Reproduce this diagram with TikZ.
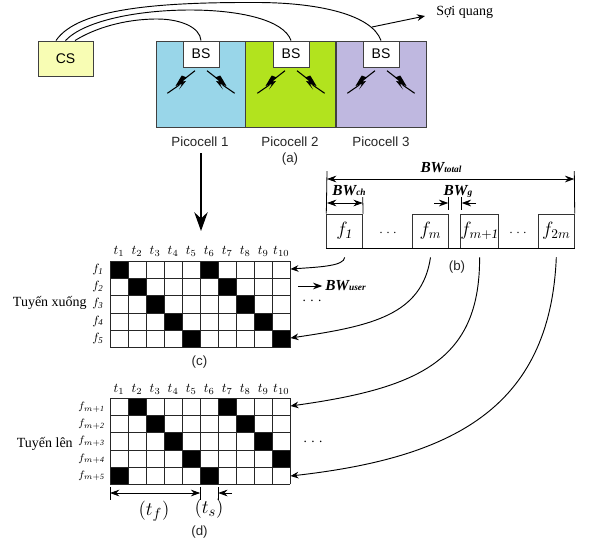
\documentclass[tikz,border=0pt]{standalone}
\usepackage{fontspec}
\setmainfont{Liberation Serif}
\newfontfamily\helv{Liberation Sans}
\usetikzlibrary{arrows.meta,positioning}
\definecolor{csyellow}{HTML}{F8FDB4}
\definecolor{cellblue}{HTML}{99D6E9}
\definecolor{cellgreen}{HTML}{B2E31E}
\definecolor{celllilac}{HTML}{BFB8E0}
\newcommand{\subfont}{\fontsize{7}{8}\selectfont}
\tikzset{
  cellbox/.style={draw=black!75,line width=.7pt,minimum width=90*.75pt,minimum height=86*.75pt,inner sep=0pt},
  bsbox/.style={draw=black!75,fill=white,line width=.7pt,minimum width=36*.75pt,minimum height=26*.75pt,inner sep=0pt,font=\helv\fontsize{10.5}{12}\selectfont},
  chanbox/.style={draw=black!80,line width=.6pt,minimum width=36*.75pt,minimum height=34*.75pt,inner sep=0pt,font=\itshape\fontsize{14}{14}\selectfont},
  sanslabel/.style={inner sep=0pt,font=\helv\fontsize{10}{11}\selectfont,text=black!85},
  seriflabel/.style={inner sep=0pt,font=\fontsize{10.5}{11}\selectfont},
  bwlabel/.style={inner sep=0pt,font=\bfseries\itshape\fontsize{11.5}{12}\selectfont},
  timelabel/.style={inner sep=0pt,font=\itshape\fontsize{10}{10}\selectfont},
  freqlabel/.style={inner sep=0pt,font=\itshape\fontsize{9.5}{10}\selectfont},
  fiber/.style={line width=.7pt},
  tip/.style={-{Stealth[length=6pt,width=5pt]},line width=.7pt},
  dimtip/.style={-{Stealth[length=7pt,width=5pt]},line width=.6pt}
}
\newcommand{\boltmark}{
  \draw[line width=.8pt] (14,-11.3) -- (4,-3.5);
  \draw[line width=.8pt] (-1.7,3) -- (-13.7,11.3);
  \fill (6,-4.5) -- (.7,-6.5) -- (-5.5,4) -- (1,2) -- (-2,7.5) -- (5,-1) -- (1.5,-.5) -- cycle;
}
\begin{document}
\begin{tikzpicture}[x=.75pt,y=-.75pt,>=Stealth]
\useasboundingbox (0,0) rectangle (596,544);
\fill[white] (0,0) rectangle (596,544);
% (a)
\node[draw=black!75,fill=csyellow,line width=.7pt,minimum width=55*.75pt,minimum height=35*.75pt,inner sep=0pt,font=\helv\fontsize{10.5}{12}\selectfont] (cs) at (65.5,58.5) {CS};
\node[cellbox,fill=cellblue] (cell1) at (201,84) {};
\node[cellbox,fill=cellgreen] (cell2) at (290.5,84) {};
\node[cellbox,fill=celllilac] (cell3) at (381,84) {};
\foreach \i/\x in {1/201,2/291,3/381} {
  \node[bsbox] (bs\i) at (\x,54) {BS};
  \begin{scope}[shift={(\x-20,82)}]
    \boltmark
  \end{scope}
  \begin{scope}[shift={(\x+20,82)},xscale=-1]
    \boltmark
  \end{scope}
}
\node[sanslabel] (pico1) at (200,142) {Picocell 1};
\node[sanslabel] (pico2) at (290,142) {Picocell 2};
\node[sanslabel] (pico3) at (381,142) {Picocell 3};
\node[sanslabel] (laba) at (290,159) {(a)};
\draw[fiber] ([xshift=-9.5*.75pt]cs.north) .. controls (78,8) and (160,2) .. (260,2.5) .. controls (320,3) and (372,15) .. (bs3.north);
\draw[fiber] (cs.north) .. controls (85,20) and (140,10) .. (190,10) .. controls (240,10) and (284,20) .. (bs2.north);
\draw[fiber] ([xshift=9.5*.75pt]cs.north) .. controls (95,28) and (125,19) .. (157,19) .. controls (180,19) and (200,27) .. (bs1.north);
\coordinate (fibertail) at (372,27);
\node[seriflabel,anchor=west] (fibertext) at (436,12) {Sợi quang};
\coordinate (fibertip) at (425,16);
\draw[tip] (fibertail) -- (fibertip);
\coordinate (drop) at (201,153);
\coordinate (dropend) at (201,231);
\draw[-{Stealth[length=14pt,width=10pt]},line width=1.6pt] (drop) -- (dropend);
% (b)
\node[chanbox] (f1) at (344.7,231) {$f_{\mathit 1}$};
\node[chanbox] (fm) at (430.5,231) {$f_{m}$};
\node[chanbox] (fm1) at (479.6,231) {$f_{m+\mathit 1}$};
\node[chanbox] (f2m) at (556.3,231) {$f_{2m}$};
\draw[line width=.7pt] (f1.south west) -- (f2m.south east);
\node[inner sep=0pt,font=\fontsize{9}{10}\selectfont] (dotsa) at (388,233) {. . .};
\node[inner sep=0pt,font=\fontsize{9}{10}\selectfont] (dotsb) at (518,233) {. . .};
\node[sanslabel] (labb) at (457,267) {(b)};
\coordinate (totl) at (327,171);
\coordinate (totr) at (574.3,171);
\draw[line width=.6pt] (totl) -- (f1.north west);
\draw[line width=.6pt] (totr) -- (f2m.north east);
\draw[line width=.6pt] (362.7,197) -- (f1.north east);
\draw[line width=.6pt] (448.3,197) -- (448.3,210);
\draw[line width=.6pt] (461.7,197) -- (461.7,210);
\draw[dimtip,{Stealth[length=7pt,width=5pt]}-{Stealth[length=7pt,width=5pt]}] (327,179) -- (574.3,179);
\draw[dimtip,{Stealth[length=7pt,width=5pt]}-{Stealth[length=7pt,width=5pt]}] (327,203) -- (362.7,203);
\draw[dimtip] (434,203) -- (448.3,203);
\draw[dimtip] (476,203) -- (461.7,203);
\node[bwlabel] (bwtotal) at (441,168) {BW{\subfont total}};
\node[bwlabel] (bwch) at (349,191) {BW{\subfont ch}};
\node[bwlabel] (bwg) at (458,191) {BW{\subfont g}};
% (c)
\foreach \c in {0,...,4} {
  \fill (110+\c*18.03,261+\c*17.3) rectangle ++(18.03,17.3);
  \fill (200.15+\c*18.03,261+\c*17.3) rectangle ++(18.03,17.3);
}
\draw[line width=.6pt,black!85,xstep=18.03*.75pt,ystep=17.3*.75pt,shift={(110,261)}] (0,0) grid (180.3,86.5);
\foreach \t in {1,...,10} \node[timelabel] (tc\t) at (101+\t*18.03,251) {$t_{\t}$};
\foreach \r in {1,...,5} \node[freqlabel] (fc\r) at (98,252+\r*17.3) {$f_{\mathit\r}$};
\node[seriflabel,anchor=east] (down) at (87,303) {Tuyến xuống};
\node[sanslabel] (labc) at (199.5,362) {(c)};
\coordinate (c1) at (290.5,269);
\coordinate (c5) at (290.5,338);
\node[bwlabel,anchor=west] (bwuser) at (325,286) {BW{\subfont user}};
\coordinate (userl) at (298,286);
\draw[dimtip,line width=.7pt,shorten >=2pt] (userl) -- (bwuser.west);
\node[inner sep=0pt,font=\fontsize{10}{10}\selectfont] (dotsc) at (312,301) {. . .};
% (d)
\foreach \c in {1,...,4} {
  \fill (110+\c*18.03,398.3+\c*17.2-17.2) rectangle ++(18.03,17.2);
  \fill (200.15+\c*18.03,398.3+\c*17.2-17.2) rectangle ++(18.03,17.2);
}
\fill (110,467.1) rectangle ++(18.03,17.2);
\fill (200.15,467.1) rectangle ++(18.03,17.2);
\draw[line width=.6pt,black!85,xstep=18.03*.75pt,ystep=17.2*.75pt,shift={(110,398.3)}] (0,0) grid (180.3,86);
\foreach \t in {1,...,10} \node[timelabel] (td\t) at (101+\t*18.03,389) {$t_{\t}$};
\foreach \r in {1,...,5} \node[freqlabel,anchor=east,font=\itshape\fontsize{8.5}{10}\selectfont] (fd\r) at (105,390+\r*17.2) {$f_{m+\mathit\r}$};
\node[seriflabel,anchor=east] (up) at (73,444) {Tuyến lên};
\coordinate (d1) at (290.5,406);
\coordinate (d5) at (290.5,476);
\node[inner sep=0pt,font=\fontsize{10}{10}\selectfont] (dotsd) at (313,442) {. . .};
\draw[line width=.6pt] (110,487) -- (110,500);
\draw[line width=.6pt] (200.2,487) -- (200.2,500);
\draw[line width=.6pt] (218.2,487) -- (218.2,500);
\draw[dimtip,{Stealth[length=7pt,width=5pt]}-{Stealth[length=7pt,width=5pt]}] (110,493) -- (200.2,493);
\draw[dimtip] (232,493) -- (218.2,493);
\node[inner sep=0pt,font=\fontsize{15}{18}\selectfont] (tf) at (154,511) {$(t_f)$};
\node[inner sep=0pt,font=\fontsize{15}{18}\selectfont] (ts) at (209,509) {$(t_s)$};
\node[sanslabel] (labd) at (199.5,532) {(d)};
% (b) to (c), (d)
\draw[tip] ([yshift=-9*.75pt]f1.south) .. controls (344,266) and (320,267) .. (c1);
\draw[tip] ([yshift=-9*.75pt]fm.south) .. controls (422,315) and (372,326) .. (c5);
\draw[tip] ([yshift=-9*.75pt]fm1.south) .. controls (480,360) and (420,388) .. (d1);
\draw[tip] ([yshift=-9*.75pt]f2m.south) .. controls (550,410) and (450,458) .. (d5);
\end{tikzpicture}
\end{document}
